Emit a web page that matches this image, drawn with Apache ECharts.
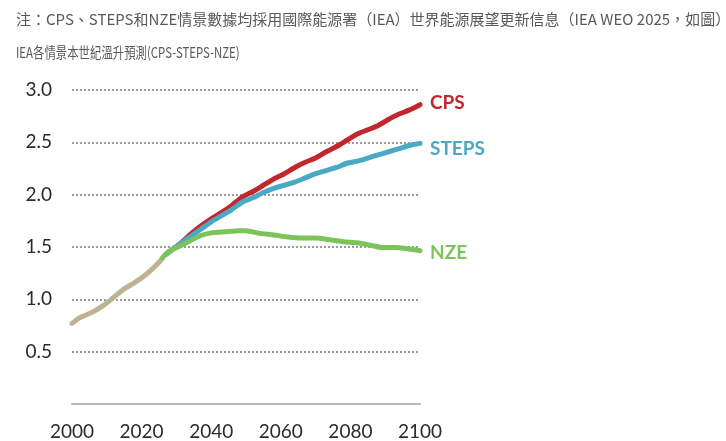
<!DOCTYPE html>
<html>
<head>
<meta charset="utf-8">
<script src="https://cdn.jsdelivr.net/npm/echarts@6/dist/echarts.min.js"></script>
<style>
    html, body { margin: 0; padding: 0; background: #fff; }
    #chart { width: 726px; height: 441px; }
</style>
</head>
<body>
<div id="chart"></div>
<script>
const noteText = '注：CPS、STEPS和NZE情景數據均採用國際能源署（IEA）世界能源展望更新信息（IEA WEO 2025，如圖）';
const subText = 'IEA各情景本世紀溫升預測(CPS-STEPS-NZE)';

const yTicks = [0.5, 1.0, 1.5, 2.0, 2.5, 3.0];
const xTicks = [2000, 2020, 2040, 2060, 2080, 2100];

// historical warming
const histYears = [2000, 2002, 2004, 2006, 2009, 2012, 2015, 2018, 2021, 2024, 2026];
const histVals = [0.77, 0.82, 0.85, 0.88, 0.94, 1.02, 1.10, 1.16, 1.23, 1.32, 1.39];

const cpsYears = [2027, 2031, 2034, 2037, 2040, 2043, 2046, 2049, 2052, 2055, 2058, 2061, 2064, 2067, 2070, 2073, 2076, 2079, 2082, 2085, 2088, 2091, 2094, 2097, 2100];
const cpsVals = [1.43, 1.53, 1.62, 1.70, 1.77, 1.83, 1.90, 1.98, 2.03, 2.09, 2.15, 2.20, 2.26, 2.31, 2.35, 2.41, 2.46, 2.52, 2.58, 2.62, 2.66, 2.72, 2.77, 2.81, 2.86];

const stepsYears = [2027, 2031, 2034, 2037, 2040, 2043, 2046, 2049, 2052, 2055, 2058, 2061, 2064, 2067, 2070, 2073, 2076, 2079, 2082, 2085, 2088, 2091, 2094, 2097, 2100];
const stepsVals = [1.43, 1.53, 1.60, 1.67, 1.74, 1.80, 1.86, 1.93, 1.97, 2.02, 2.06, 2.09, 2.12, 2.16, 2.20, 2.23, 2.26, 2.30, 2.32, 2.35, 2.38, 2.41, 2.44, 2.47, 2.49];

const nzeYears = [2026, 2028, 2031, 2034, 2037, 2040, 2044, 2048, 2050, 2054, 2058, 2062, 2066, 2070, 2074, 2078, 2082, 2086, 2089, 2093, 2097, 2100];
const nzeVals = [1.40, 1.46, 1.51, 1.56, 1.61, 1.635, 1.645, 1.655, 1.655, 1.63, 1.615, 1.595, 1.585, 1.585, 1.57, 1.55, 1.54, 1.515, 1.495, 1.495, 1.48, 1.465];

const pairs = (xs, ys) => xs.map((x, i) => [x, ys[i]]);

const chart = echarts.init(document.getElementById('chart'));

const lineSeries = (name, xs, ys, color, showEnd, dy) => ({
    name: name,
    type: 'line',
    data: pairs(xs, ys),
    showSymbol: false,
    smooth: 0.2,
    lineStyle: { color: color, width: 5, cap: 'round', join: 'round' },
    itemStyle: { color: color },
    endLabel: {
        show: showEnd,
        formatter: '{a}',
        distance: 10,
        offset: [0, dy || 0],
        color: color,
        fontFamily: 'Lato',
        fontWeight: 'bold',
        fontSize: 19
    },
    emphasis: { disabled: true }
});

// header lines; the second one is narrow in the picture, so squeeze it
const headerText = (text, y, size, sx) => ({
    type: 'text',
    x: 16,
    y: y,
    scaleX: sx,
    silent: true,
    style: {
        text: text,
        fontFamily: 'Noto Sans CJK TC',
        fontSize: size,
        fill: '#595959',
        verticalAlign: 'middle'
    }
});

chart.setOption({
    animation: false,
    graphic: [
        headerText(noteText, 19, 15, 1),
        headerText(subText, 52, 15, 0.76)
    ],
    grid: {
        left: 72,
        right: 306,
        top: 90,
        bottom: 37
    },
    xAxis: {
        type: 'value',
        min: xTicks[0],
        max: xTicks[xTicks.length - 1],
        interval: 20,
        axisLine: { lineStyle: { color: '#b8b8b8', width: 2 } },
        axisTick: { show: false },
        splitLine: { show: false },
        axisLabel: {
            margin: 18,
            color: '#2b2b2b',
            fontFamily: 'Lato',
            fontSize: 19,
            formatter: v => String(v)
        }
    },
    yAxis: {
        type: 'value',
        min: 0,
        max: yTicks[yTicks.length - 1],
        interval: 0.5,
        axisLine: { show: false },
        axisTick: { show: false },
        splitLine: {
            lineStyle: { color: '#9a9a9a', width: 2, type: [2, 2] }
        },
        axisLabel: {
            margin: 20,
            color: '#2b2b2b',
            fontFamily: 'Lato',
            fontSize: 19,
            formatter: v => (yTicks.includes(v) ? v.toFixed(1) : '')
        }
    },
    series: [
        lineSeries('hist', histYears, histVals, '#bdb394', false),
        lineSeries('CPS', cpsYears, cpsVals, '#c1272d', true, -2),
        lineSeries('STEPS', stepsYears, stepsVals, '#4aa9c3', true, 5),
        lineSeries('NZE', nzeYears, nzeVals, '#7cc45a', true, 2)
    ]
});
</script>
</body>
</html>
